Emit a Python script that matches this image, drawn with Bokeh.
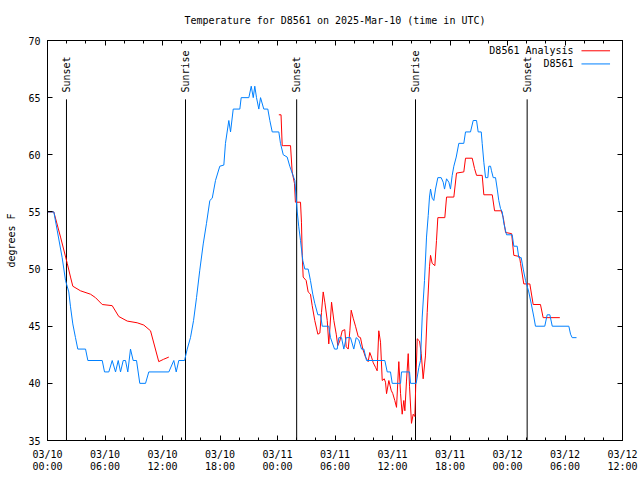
import math
from bokeh.plotting import figure
from bokeh.models import Range1d, FixedTicker, LinearAxis, Label, CustomJSTickFormatter
from bokeh.core.properties import value
from bokeh.embed import file_html
from bokeh.resources import INLINE

# ---------------- data ----------------
title_text = "Temperature for D8561 on 2025-Mar-10 (time in UTC)"
y_label = "degrees F"

# hours since 03/10 00:00 UTC
x_tick_hours = [0, 6, 12, 18, 24, 30, 36, 42, 48, 54, 60]
x_tick_labels = ["03/10\n00:00", "03/10\n06:00", "03/10\n12:00", "03/10\n18:00",
                 "03/11\n00:00", "03/11\n06:00", "03/11\n12:00", "03/11\n18:00",
                 "03/12\n00:00", "03/12\n06:00", "03/12\n12:00"]
x_minor_hours = list(range(0, 61, 2))
y_ticks = [35, 40, 45, 50, 55, 60, 65, 70]

event_hours = [1.98, 14.40, 26.0, 38.40, 50.05]
event_labels = ["Sunset", "Sunrise", "Sunset", "Sunrise", "Sunset"]

# D8561 observations
obs_hours = [
    0.00, 0.66, 1.01, 1.53, 1.88, 2.22, 2.40, 2.64, 2.92, 3.16,
    3.97, 4.21, 5.71, 5.95, 6.40, 6.75, 7.10, 7.38, 7.62, 7.90,
    8.14, 8.38, 8.66, 8.94, 9.29, 9.63, 10.23, 10.57, 12.66, 13.18,
    13.43, 13.70, 14.30, 14.58, 14.92, 15.24, 15.55, 15.89, 16.25, 16.59,
    16.94, 17.19, 17.53, 17.98, 18.40, 18.57, 18.92, 19.10, 19.38, 20.07,
    20.21, 21.01, 21.26, 21.47, 21.63, 21.81, 22.05, 22.23, 22.57, 22.99,
    23.20, 23.45, 24.14, 24.31, 24.60, 25.01, 25.28, 25.70, 25.81, 26.06,
    26.22, 26.40, 26.64, 26.85, 27.20, 27.44, 27.68, 27.89, 28.21, 28.49,
    28.67, 29.35, 29.53, 29.95, 30.23, 30.40, 30.68, 30.92, 31.17, 31.62,
    31.96, 32.21, 32.48, 32.77, 33.01, 33.29, 35.20, 35.45, 35.79, 35.97,
    36.84, 36.94, 37.78, 37.88, 38.47, 38.75, 38.92, 39.10, 39.34, 39.55,
    39.73, 39.86, 39.97, 40.14, 40.31, 40.49, 40.73, 41.08, 41.29, 41.43,
    41.64, 41.88, 42.05, 42.23, 42.40, 42.65, 42.92, 43.44, 43.62, 44.14,
    44.42, 44.77, 44.94, 45.26, 45.36, 45.53, 45.71, 45.95, 46.05, 46.23,
    46.33, 46.51, 46.75, 46.93, 47.09, 47.27, 47.45, 47.62, 47.90, 48.49,
    48.66, 49.01, 49.18, 49.43, 49.64, 49.88, 50.22, 50.47, 50.75, 50.92,
    51.89, 52.14, 52.42, 52.67, 54.40, 54.58, 54.75, 55.20]
obs_temps = [
    55, 55, 53.4, 51, 49, 48, 46.7, 45.2, 44, 43,
    43, 42, 42, 41, 41, 42, 41, 42, 41, 42,
    42, 41, 43, 42, 42, 40, 40, 41, 41, 42,
    41, 42, 42, 43, 44, 45.5, 47.5, 49.9, 52.2, 54,
    56, 56.2, 57.75, 59, 59.1, 61, 63, 62, 64, 64,
    65, 65, 66, 65, 66, 65, 64, 65, 64, 64,
    63, 62, 62, 61, 60, 59.8, 59, 58, 57.75, 55,
    53.7, 52.5, 50.75, 50, 50, 49, 47.8, 47, 46, 46,
    45, 45, 44, 43, 43, 44, 44, 43, 44, 44,
    43, 44, 43.8, 43, 43, 42, 42, 41, 41, 40,
    40, 41, 41, 40, 40, 41.4, 42, 45.8, 49, 52.8,
    54.7, 56.3, 57, 56.2, 56, 57, 58, 58, 57.6, 57,
    57.9, 57.6, 57, 58.2, 59, 59.8, 61, 61, 62, 62,
    63, 63, 62, 62, 61, 59.35, 58, 58, 59, 59,
    58.6, 58, 58, 57, 56, 55.3, 55, 54, 53, 53,
    52, 52, 51, 51, 50, 49, 48, 47, 45.8, 45,
    45, 46, 46, 45, 45, 44.3, 44, 44]

# D8561 Analysis (two separate runs)
ana1_hours = [0.0, 0.66, 1.36, 2.06, 2.40, 2.64, 3.44, 4.49, 5.01, 5.71,
              6.75, 7.44, 8.32, 9.36, 10.05, 10.75, 11.61, 12.10, 12.66]
ana1_temps = [55, 55, 52.8, 50.5, 49.3, 48.5, 48.1, 47.8, 47.5, 46.9,
              46.8, 45.85, 45.45, 45.3, 45.1, 44.6, 41.9, 42.1, 42.3]

ana2_hours = [
    24.14, 24.37, 24.49, 24.66, 25.36, 25.53, 25.77, 25.87, 26.40, 26.50,
    26.58, 26.68, 26.99, 27.20, 27.44, 27.62, 27.89, 28.21, 28.42, 28.59,
    28.77, 28.94, 29.19, 29.35, 29.46, 29.64, 29.88, 30.13, 30.29, 30.50,
    30.75, 31.02, 31.17, 31.38, 31.55, 31.69, 31.90, 32.14, 32.42, 32.66,
    32.90, 33.18, 33.46, 33.63, 33.81, 33.99, 34.23, 34.40, 34.57, 34.75,
    34.93, 35.14, 35.27, 35.38, 35.62, 35.86, 36.03, 36.24, 36.42, 36.66,
    36.84, 37.01, 37.18, 37.29, 37.46, 37.64, 37.78, 37.98, 38.16, 38.33,
    38.43, 38.58, 38.82, 39.00, 39.20, 39.44, 39.62, 39.86, 39.97, 40.14,
    40.42, 40.59, 40.73, 41.46, 41.64, 42.40, 42.68, 43.44, 43.62, 44.32,
    44.56, 44.77, 45.36, 45.53, 46.41, 46.65, 47.35, 47.56, 47.80, 48.43,
    48.66, 49.25, 49.36, 49.70, 50.33, 50.68, 51.44, 51.72, 53.46]
ana2_temps = [
    63.5, 63.5, 60.8, 60.8, 60.8, 58.5, 57.5, 55.85, 55.85, 54.1,
    51.2, 49.3, 49.0, 48.0, 47.8, 46.8, 45.5, 44.3, 44.4, 46.2,
    48.0, 47.1, 45.5, 43.45, 44.7, 47.1, 45.5, 44.3, 43.3, 43.7,
    44.6, 44.7, 43.2, 43.0, 44.6, 46.4, 45.7, 45.0, 44.1, 44.0,
    43.0, 42.3, 41.9, 42.7, 42.3, 41.8, 41.4, 41.1, 44.6, 43.6,
    40.25, 40.4, 40.1, 39.1, 40.25, 39.4, 39.1, 38.5, 37.9, 41.9,
    39.1, 37.3, 38.5, 37.6, 40.2, 42.6, 39.7, 36.5, 37.3, 37.1,
    39.95, 43.9, 43.7, 42.6, 40.4, 42.4, 46.2, 50.2, 51.2, 50.5,
    50.3, 52.5, 54.5, 54.5, 56.3, 56.3, 58.4, 58.5, 59.7, 59.7,
    58.8, 58.2, 58.2, 56.5, 56.5, 55.1, 55.1, 54.5, 53.2, 53.1,
    51.2, 51.1, 50.5, 48.7, 48.7, 46.9, 46.9, 45.75, 45.75]

series_names = ["D8561 Analysis", "D8561"]

# ---------------- style ----------------
FONT = "DejaVu Sans Mono"
FS = "10px"
RED = "#ff0000"
BLUE = "#0080ff"
X0, X1, Y0, Y1 = 0, 60, 35, 70
EVENT_LINE_TOP = 64.85      # where event lines stop (below the labels)
EVENT_LABEL_BASE = 65.45    # start of rotated labels
LEG_TEXT_X = 54.9
LEG_LINE_X0, LEG_LINE_X1 = 55.72, 58.70
LEG_ROWS = [69.1, 67.95]

p = figure(width=640, height=480, output_backend="svg", toolbar_location=None,
           x_range=Range1d(X0, X1), y_range=Range1d(Y0, Y1),
           title=title_text,
           min_border_left=47, min_border_right=18,
           min_border_top=40, min_border_bottom=40)
p.background_fill_color = "white"
p.border_fill_color = "white"
p.outline_line_color = "black"
p.outline_line_width = 1
p.grid.visible = False

p.title.text_font = FONT
p.title.text_font_size = FS
p.title.text_font_style = "normal"
p.title.align = "center"
p.title.vertical_align = "top"
p.title.text_color = "black"
p.title.standoff = 26

blank = CustomJSTickFormatter(code="return ''")

def style_axis(ax, labels=True):
    ax.axis_line_color = "black"
    ax.major_tick_line_color = "black"
    ax.minor_tick_line_color = "black"
    ax.major_tick_in = 5
    ax.major_tick_out = 0
    ax.minor_tick_in = 3
    ax.minor_tick_out = 0
    ax.major_label_text_font = FONT
    ax.major_label_text_color = "black"
    ax.major_label_text_font_size = FS
    if not labels:
        ax.formatter = blank
        ax.major_label_standoff = 0

xt = FixedTicker(ticks=x_tick_hours, minor_ticks=x_minor_hours)
yt = FixedTicker(ticks=y_ticks, minor_ticks=[])

xa = p.xaxis[0]
xa.ticker = xt
xa.major_label_overrides = {h: lab for h, lab in zip(x_tick_hours, x_tick_labels)}
style_axis(xa)
xa.major_label_standoff = 8
xa.major_label_text_line_height = 1.15

ya = p.yaxis[0]
ya.ticker = yt
style_axis(ya)
ya.major_label_standoff = 7
ya.axis_label = y_label
ya.axis_label_text_font = FONT
ya.axis_label_text_font_size = FS
ya.axis_label_text_font_style = "normal"
ya.axis_label_text_color = "black"
ya.axis_label_standoff = 8

top = LinearAxis(ticker=FixedTicker(ticks=x_tick_hours, minor_ticks=x_minor_hours))
style_axis(top, labels=False)
p.add_layout(top, "above")
right = LinearAxis(ticker=FixedTicker(ticks=y_ticks, minor_ticks=[]))
style_axis(right, labels=False)
p.add_layout(right, "right")

# sunrise / sunset markers
p.segment(x0=event_hours, y0=[Y0] * len(event_hours), x1=event_hours,
          y1=[EVENT_LINE_TOP] * len(event_hours), line_color="black", line_width=1)
p.text(x=event_hours, y=[EVENT_LABEL_BASE] * len(event_hours), text=event_labels,
       angle=math.pi / 2, text_align="left", text_baseline="middle",
       text_font=value(FONT), text_font_size=FS, text_color="black")

# series
ana_hours = ana1_hours + [float("nan")] + ana2_hours
ana_temps = ana1_temps + [float("nan")] + ana2_temps
p.line(ana_hours, ana_temps, line_color=RED, line_width=1)
p.line(obs_hours, obs_temps, line_color=BLUE, line_width=1)

# gnuplot-style legend (text then sample)
for name, col, yy in zip(series_names, [RED, BLUE], LEG_ROWS):
    p.add_layout(Label(x=LEG_TEXT_X, y=yy, text=name, text_align="right",
                       text_baseline="middle", text_font=FONT, text_font_size=FS,
                       text_color="black"))
    p.segment(x0=[LEG_LINE_X0], y0=[yy], x1=[LEG_LINE_X1], y1=[yy],
              line_color=col, line_width=1)

open("out.html", "w").write(file_html(p, INLINE))
